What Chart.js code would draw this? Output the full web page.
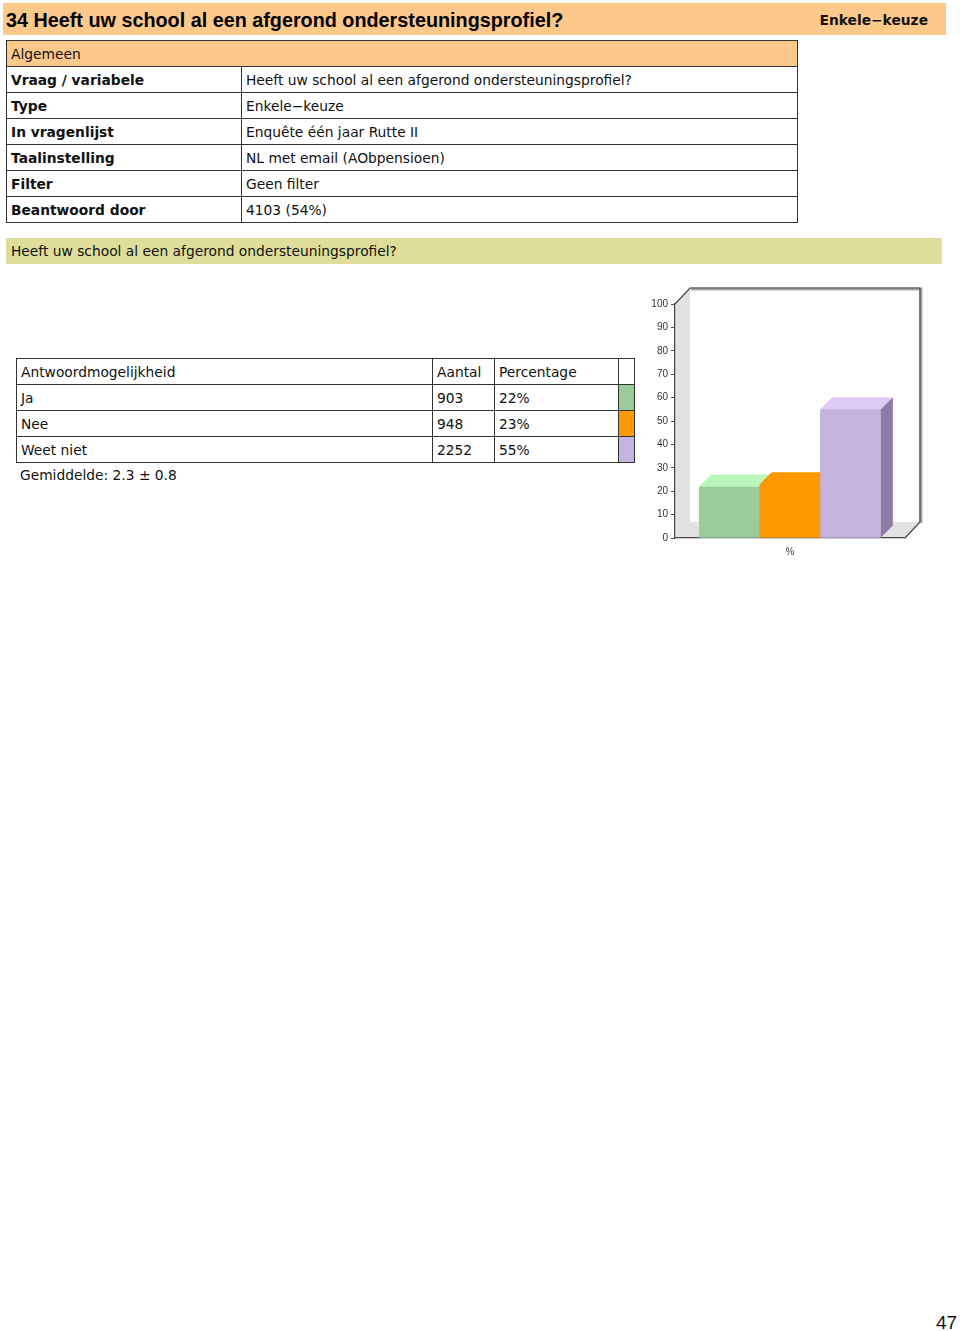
<!DOCTYPE html>
<html>
<head>
  <title>34 Heeft uw school al een afgerond ondersteuningsprofiel?</title>
  <style>
    body {
      margin: 0;
      padding: 0;
      background: #fff;
      font-family: "DejaVu Sans", sans-serif;
      color: #111;
      width: 960px;
      height: 1331px;
      position: relative;
      overflow: hidden;
    }
    .kop {
      position: absolute;
      left: 3px; top: 3px;
      width: 943px; height: 32px;
      background: #fdc98a;
    }
    .kop h1 {
      position: absolute;
      left: 3px; top: 6px;
      margin: 0;
      font: bold 19.8px "Liberation Sans", Arial, sans-serif;
      color: #000;
    }
    .kop .soort {
      position: absolute;
      right: 18px; top: 9px;
      font: bold 13.8px "DejaVu Sans", sans-serif;
      color: #111;
    }
    table {
      position: absolute;
      border-collapse: collapse;
      table-layout: fixed;
      font-size: 13.8px;
    }
    td {
      height: 24px;
      padding: 1px 0 0 4px;
      border: 1px solid #333;
      white-space: nowrap;
      overflow: hidden;
      vertical-align: middle;
    }
    #algemeen { left: 6px; top: 40px; width: 792px; }
    #algemeen .head td { background: #fdc98a; }
    .vraagbalk {
      position: absolute;
      left: 6px; top: 238px;
      width: 936px; height: 26px;
      background: #dede9a;
      font-size: 13.8px;
      line-height: 27px;
      box-sizing: border-box;
      padding-left: 5px;
    }
    #antwoorden { left: 16px; top: 358px; width: 619px; }
    .gem {
      position: absolute;
      left: 20px; top: 467px;
      font-size: 13.8px;
    }
    .pagina {
      position: absolute;
      left: 936px; top: 1312px;
      font: 19px "Liberation Sans", Arial, sans-serif;
      color: #111;
    }
    #grafiek {
      position: absolute;
      left: 640px; top: 280px;
      width: 300px; height: 285px;
    }
  </style>
</head>
<body>

  <div class="kop">
    <h1>34 Heeft uw school al een afgerond ondersteuningsprofiel?</h1>
    <span class="soort">Enkele&minus;keuze</span>
  </div>

  <table id="algemeen">
    <colgroup><col style="width:235px"><col></colgroup>
    <tr class="head"><td colspan="2">Algemeen</td></tr>
    <tr><td><b>Vraag / variabele</b></td><td>Heeft uw school al een afgerond ondersteuningsprofiel?</td></tr>
    <tr><td><b>Type</b></td><td>Enkele&minus;keuze</td></tr>
    <tr><td><b>In vragenlijst</b></td><td>Enquête één jaar Rutte II</td></tr>
    <tr><td><b>Taalinstelling</b></td><td>NL met email (AObpensioen)</td></tr>
    <tr><td><b>Filter</b></td><td>Geen filter</td></tr>
    <tr><td><b>Beantwoord door</b></td><td>4103 (54%)</td></tr>
  </table>

  <div class="vraagbalk">Heeft uw school al een afgerond ondersteuningsprofiel?</div>

  <table id="antwoorden">
    <colgroup><col style="width:416px"><col style="width:62px"><col style="width:124px"><col style="width:16px"></colgroup>
    <tbody id="antwoordRijen">
      <tr><td>Antwoordmogelijkheid</td><td>Aantal</td><td>Percentage</td><td style="padding:0"></td></tr>
    </tbody>
  </table>
  <div class="gem">Gemiddelde: 2.3 ± 0.8</div>

  <canvas id="grafiek" width="300" height="285"></canvas>

  <div class="pagina">47</div>

<script src="https://cdn.jsdelivr.net/npm/chart.js"></script>
<script>
  // Gegevens uit de tabel
  const categorieen = ['Ja', 'Nee', 'Weet niet'];
  const aantallen = [903, 948, 2252];
  const percentages = [22, 23, 55];
  const asLabels = ['%'];

  // Kleuren: voorkant, bovenkant, zijkant
  const kleurVoor = ['#99cc99', '#ff9900', '#c5b4df'];
  const kleurBoven = ['#bbf7bb', '#ff9900', '#ddcbf7'];
  const kleurZij = ['#7aa57a', '#cc7a00', '#8d7ca3'];

  // Tabel vullen
  const rijen = document.getElementById('antwoordRijen');
  categorieen.forEach((c, i) => {
    const tr = document.createElement('tr');
    tr.innerHTML = '<td>' + c + '</td><td>' + aantallen[i] + '</td><td>' + percentages[i] +
      '%</td><td style="padding:0;background:' + kleurVoor[i] + '"></td>';
    rijen.appendChild(tr);
  });

  // Achterwand en vloer (pseudo 3D)
  const wandPlugin = {
    id: 'wand',
    beforeDraw(chart) {
      const { ctx, chartArea: a } = chart;
      const dx = 15, dy = 16;
      ctx.save();
      ctx.fillStyle = '#e2e2e2';
      // linker wand
      ctx.beginPath();
      ctx.moveTo(a.left, a.bottom);
      ctx.lineTo(a.left, a.top);
      ctx.lineTo(a.left + dx, a.top - dy);
      ctx.lineTo(a.left + dx, a.bottom - dy);
      ctx.closePath();
      ctx.fill();
      // vloer
      ctx.beginPath();
      ctx.moveTo(a.left, a.bottom);
      ctx.lineTo(a.right, a.bottom);
      ctx.lineTo(a.right + dx, a.bottom - dy);
      ctx.lineTo(a.left + dx, a.bottom - dy);
      ctx.closePath();
      ctx.fill();
      // randen
      ctx.strokeStyle = '#aaa';
      ctx.lineWidth = 3;
      ctx.beginPath();
      ctx.moveTo(a.left + dx + 1, a.top - dy + 1);
      ctx.lineTo(a.right + dx + 1, a.top - dy + 1);
      ctx.lineTo(a.right + dx + 1, a.bottom - dy + 1);
      ctx.stroke();
      ctx.strokeStyle = '#444';
      ctx.lineWidth = 1.2;
      ctx.beginPath();
      ctx.moveTo(a.left, a.top);
      ctx.lineTo(a.left + dx, a.top - dy);
      ctx.lineTo(a.right + dx, a.top - dy);
      ctx.lineTo(a.right + dx, a.bottom - dy);
      ctx.lineTo(a.right, a.bottom);
      ctx.stroke();
      ctx.restore();
    }
  };

  // Staven van links naar rechts opnieuw tekenen met boven- en zijvlak,
  // zodat de rechter staaf het zijvlak van de linker bedekt
  const blokPlugin = {
    id: 'blok',
    afterDatasetsDraw(chart) {
      const d = 12;
      const ctx = chart.ctx;
      ctx.save();
      categorieen.forEach((c, i) => {
        chart.getDatasetMeta(i).data.forEach(bar => {
          const p = bar.getProps(['x', 'y', 'base', 'width'], true);
          const l = p.x - p.width / 2, r = p.x + p.width / 2;
          ctx.fillStyle = kleurVoor[i];
          ctx.fillRect(l, p.y, p.width, p.base - p.y);
          ctx.fillStyle = kleurBoven[i];
          ctx.beginPath();
          ctx.moveTo(l, p.y);
          ctx.lineTo(l + d, p.y - d);
          ctx.lineTo(r + d, p.y - d);
          ctx.lineTo(r, p.y);
          ctx.closePath();
          ctx.fill();
          ctx.fillStyle = kleurZij[i];
          ctx.beginPath();
          ctx.moveTo(r, p.y);
          ctx.lineTo(r + d, p.y - d);
          ctx.lineTo(r + d, p.base - d);
          ctx.lineTo(r, p.base);
          ctx.closePath();
          ctx.fill();
        });
      });
      ctx.restore();
    }
  };

  new Chart(document.getElementById('grafiek'), {
    type: 'bar',
    data: {
      labels: asLabels,
      datasets: categorieen.map((c, i) => ({
        label: c,
        data: [percentages[i]],
        backgroundColor: kleurVoor[i],
        borderWidth: 0,
        barPercentage: 1,
        categoryPercentage: 0.79
      }))
    },
    options: {
      responsive: false,
      animation: false,
      layout: { padding: { top: 24, right: 35, left: 0, bottom: 0 } },
      plugins: {
        legend: { display: false },
        tooltip: { enabled: false }
      },
      scales: {
        x: {
          grid: { display: false },
          border: { color: '#444', width: 1.2 },
          ticks: { color: '#444', font: { family: 'Liberation Sans', size: 10 }, padding: 0 },
          afterFit(s) { s.height = 27; }
        },
        y: {
          min: 0,
          max: 100,
          ticks: { stepSize: 10, color: '#333', font: { family: 'Liberation Sans', size: 10 }, padding: 3 },
          grid: { drawOnChartArea: false, tickLength: 4, color: '#555' },
          border: { color: '#444', width: 1.2 },
          afterFit(s) { s.width = 35; }
        }
      }
    },
    plugins: [wandPlugin, blokPlugin]
  });
</script>

</body>
</html>
